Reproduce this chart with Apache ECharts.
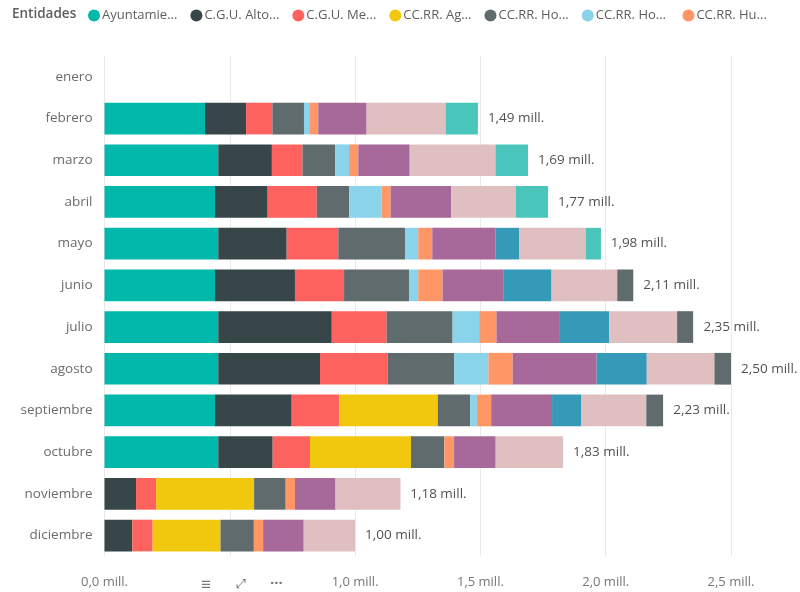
<!DOCTYPE html>
<html>
<head>
<meta charset="utf-8">
<script src="https://cdn.jsdelivr.net/npm/echarts@6/dist/echarts.min.js"></script>
<style>
html,body{margin:0;padding:0;background:#fff;}
#chart{width:800px;height:592px;}
</style>
</head>
<body>
<div id="chart"></div>
<script>
var categories = ['enero','febrero','marzo','abril','mayo','junio','julio','agosto','septiembre','octubre','noviembre','diciembre'];

var seriesNames = ['Ayuntamie...','C.G.U. Alto...','C.G.U. Me...','CC.RR. Ag...','CC.RR. Ho...','CC.RR. Ho... ','CC.RR. Hu...','Entidad 8','Entidad 9','Entidad 10','Entidad 11','Entidad 12'];

var ayuntamiento = [0, 0.401, 0.454, 0.441, 0.454, 0.441, 0.454, 0.454, 0.441, 0.454, 0, 0];
var cguAlto      = [0, 0.164, 0.214, 0.210, 0.273, 0.319, 0.453, 0.406, 0.306, 0.217, 0.126, 0.111];
var cguMe        = [0, 0.105, 0.122, 0.196, 0.206, 0.196, 0.219, 0.270, 0.190, 0.149, 0.080, 0.081];
var ccrrAg       = [0, 0, 0, 0, 0, 0, 0, 0, 0.393, 0.403, 0.391, 0.271];
var ccrrHo1      = [0, 0.126, 0.130, 0.129, 0.266, 0.259, 0.263, 0.266, 0.129, 0.133, 0.126, 0.133];
var ccrrHo2      = [0, 0.024, 0.056, 0.130, 0.053, 0.037, 0.106, 0.136, 0.027, 0, 0, 0];
var ccrrHu       = [0, 0.033, 0.037, 0.036, 0.056, 0.097, 0.069, 0.097, 0.057, 0.039, 0.037, 0.037];
var entidad8     = [0, 0.193, 0.205, 0.241, 0.253, 0.242, 0.250, 0.335, 0.243, 0.166, 0.162, 0.162];
var entidad9     = [0, 0, 0, 0, 0.093, 0.193, 0.200, 0.200, 0.117, 0, 0, 0];
var entidad10    = [0, 0.315, 0.342, 0.259, 0.267, 0.262, 0.271, 0.270, 0.259, 0.269, 0.259, 0.205];
var entidad11    = [0, 0.129, 0.130, 0.128, 0.060, 0, 0, 0, 0, 0, 0, 0];
var entidad12    = [0, 0, 0, 0, 0, 0.064, 0.064, 0.066, 0.067, 0, 0, 0];

var totals = [null, 1.49, 1.69, 1.77, 1.98, 2.11, 2.35, 2.50, 2.23, 1.83, 1.18, 1.00];

var xTicks = [0, 0.5, 1.0, 1.5, 2.0, 2.5];

var colors = ['#01B8AA','#374649','#FD625E','#F2C80F','#5F6B6D','#8AD4EB','#FE9666','#A66999','#3599B8','#DFBFBF','#4AC5BB','#5F6B6D'];

var allData = [ayuntamiento, cguAlto, cguMe, ccrrAg, ccrrHo1, ccrrHo2, ccrrHu, entidad8, entidad9, entidad10, entidad11, entidad12];

var FONT = '"Segoe UI", "Open Sans", "Noto Sans", sans-serif';

var series = allData.map(function (d, i) {
  return {
    name: seriesNames[i],
    type: 'bar',
    stack: 'total',
    barCategoryGap: '24%',
    itemStyle: { color: colors[i] },
    emphasis: { disabled: true },
    data: d.map(function (v) { return v === 0 ? null : v; })
  };
});

series.push({
  name: 'Total',
  type: 'scatter',
  symbolSize: 0,
  silent: true,
  data: totals.map(function (t, i) { return t === null ? null : [t, categories[i]]; }).filter(function (x) { return x; }),
  label: {
    show: true,
    position: 'right',
    distance: 10,
    color: '#252423',
    fontFamily: FONT,
    fontSize: 13.5,
    formatter: function (p) { return p.value[0].toFixed(2).replace('.', ',') + ' mill.'; }
  }
});

var chart = echarts.init(document.getElementById('chart'), null, { renderer: 'canvas' });
chart.setOption({
  animation: false,
  color: colors,
  textStyle: { fontFamily: FONT },
  graphic: [
    { type: 'text', left: 12, top: 7, style: { text: 'Entidades', fill: '#605E5C', font: '600 13.5px ' + FONT } },
    { type: 'rect', left: 196, top: 572, shape: { width: 96, height: 20 }, style: { fill: '#ffffff' }, z: 100 },
    { type: 'text', left: 201, top: 577, z: 101, style: { text: '\u2261', fill: '#777', font: '17px ' + FONT } },
    { type: 'text', left: 236, top: 578, z: 101, style: { text: '\u2922', fill: '#777', font: '13px "DejaVu Sans"' } },
    { type: 'text', left: 270, top: 576, z: 101, style: { text: '\u00B7\u00B7\u00B7', fill: '#777', font: 'bold 15px ' + FONT } }
  ],
  legend: {
    data: seriesNames.slice(0, 7),
    left: 88,
    top: 9,
    icon: 'circle',
    itemWidth: 12,
    itemHeight: 12,
    itemGap: 13,
    padding: 0,
    textStyle: { color: '#605E5C', fontSize: 13, fontFamily: FONT, padding: [0, 0, 0, -3] }
  },
  grid: { left: 104.5, right: 69, top: 56, bottom: 35.6, containLabel: false },
  xAxis: {
    type: 'value',
    min: 0,
    max: 2.5,
    interval: 0.5,
    axisLine: { show: false },
    axisTick: { show: false },
    splitLine: { show: true, lineStyle: { color: '#E9E9E9', width: 1 } },
    axisLabel: {
      color: '#777777',
      fontSize: 13,
      fontFamily: FONT,
      margin: 19,
      formatter: function (v) { return v.toFixed(1).replace('.', ',') + ' mill.'; }
    }
  },
  yAxis: {
    type: 'category',
    data: categories,
    inverse: true,
    axisLine: { show: false },
    axisTick: { show: false },
    axisLabel: { color: '#6B6B6B', fontSize: 13.5, fontFamily: FONT, margin: 12 }
  },
  series: series
});
</script>
</body>
</html>
